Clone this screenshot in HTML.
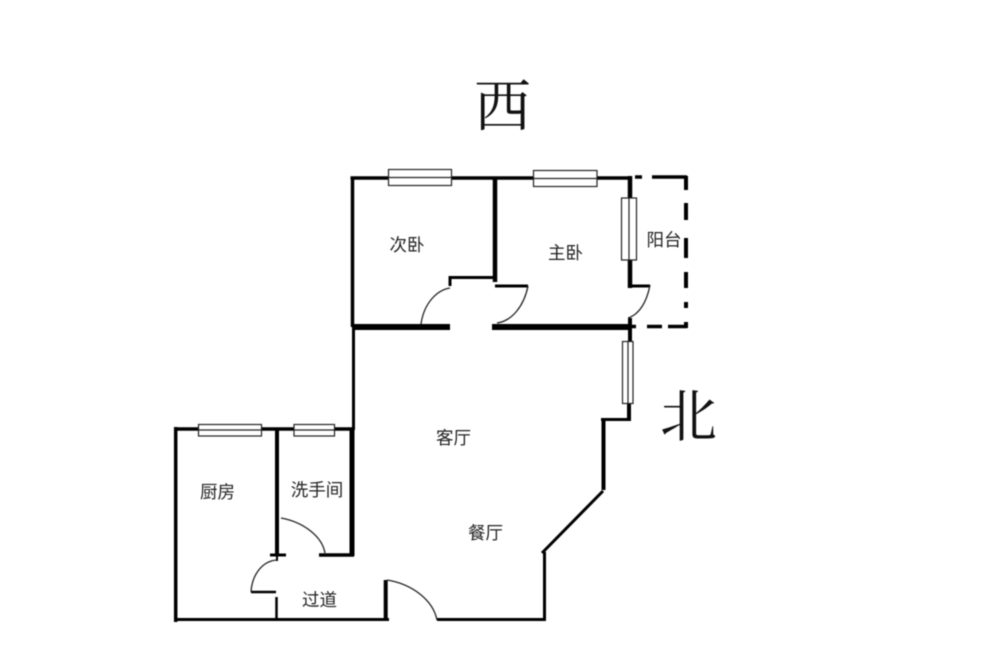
<!DOCTYPE html>
<html><head><meta charset="utf-8">
<style>html,body{margin:0;padding:0;background:#fff}svg{display:block}
text{font-family:"Liberation Sans","Noto Sans CJK SC",sans-serif;font-size:17.500px;fill:#222;text-anchor:middle}
text.big{font-family:"Liberation Serif","Noto Serif CJK SC",serif;font-size:57px;fill:#111}
.soft{filter:blur(0.400px)}
</style></head><body>
<svg width="1000" height="653" viewBox="0 0 1000 653" xmlns="http://www.w3.org/2000/svg">
<rect width="1000" height="653" fill="#fff"/>
<g class="soft">
<g fill="none" stroke="#000" stroke-linecap="butt">
<!-- upper rooms -->
<path d="M350.500 178H631" stroke-width="3.500"/>
<path d="M352.500 176.500V327" stroke-width="3.500"/>
<path d="M495 176.500V282" stroke-width="4.500"/>
<path d="M450 286V277.500H497" stroke-width="3"/>
<path d="M352 327H450" stroke-width="6"/>
<path d="M492 327H632" stroke-width="6"/>
<path d="M495 286H528" stroke-width="3"/>
<path d="M630 176V288" stroke-width="4.500"/>
<path d="M628 286H650" stroke-width="3"/>
<path d="M630 318V341" stroke-width="4"/>
<!-- balcony dashed -->
<path d="M635 177H642M652 177H687" stroke-width="3.500"/>
<path d="M686 176V190M686 203V220M686 238V258M686 272V288M686 302V308M686 322V328" stroke-width="4"/>
<path d="M632 326.500H636M647 326.500H662M668 326.500H687" stroke-width="3.500"/>
<!-- living room outline -->
<path d="M353.500 327V430" stroke-width="3"/>
<path d="M629 403V421" stroke-width="4"/>
<path d="M601 419.500H631" stroke-width="3"/>
<path d="M603.500 419V490" stroke-width="4"/>
<path d="M603 491L542 553" stroke-width="3"/>
<path d="M544.500 552V621" stroke-width="3"/>
<path d="M437 619.500H546" stroke-width="3"/>
<!-- lower rooms -->
<path d="M174 429H353" stroke-width="3.500"/>
<path d="M175.700 427V622" stroke-width="3.500"/>
<path d="M277 429V556" stroke-width="4"/>
<path d="M352 429V556" stroke-width="5"/>
<path d="M319 555H354" stroke-width="3.500"/>
<path d="M270 555H286" stroke-width="3"/>
<path d="M277 556V561" stroke-width="2"/>
<path d="M251 592H276" stroke-width="2.500"/>
<path d="M276.500 597V620" stroke-width="2.500"/>
<path d="M174 619.500H389" stroke-width="3"/>
<path d="M385.700 580V620" stroke-width="4"/>
<!-- door arcs -->
<g stroke-width="1.300" stroke="#222">
<path d="M421 324C424 303 437 290 450 288"/>
<path d="M528 286C524 306 512 321 497 323"/>
<path d="M650 285C647 301 640 314 628 318"/>
<path d="M281 518C303 522 322 536 325 553"/>
<path d="M277 560C262 561 252 575 251 592"/>
<path d="M387 580C412 584 433 600 437 620"/>
</g>
</g>
<!-- windows -->
<g fill="#fff" stroke="#222" stroke-width="1.200">
<rect x="388.500" y="169.500" width="63" height="16"/><path d="M388.500 177.500H451.500"/>
<rect x="533.500" y="170.500" width="63.500" height="16"/><path d="M533.500 178.500H597"/>
<rect x="621.500" y="198" width="15" height="62"/><path d="M629 198V260"/>
<rect x="622.500" y="341.500" width="10.500" height="62"/><path d="M628 341.500V403.500"/>
<rect x="198.500" y="424.500" width="63" height="11.500"/><path d="M198.500 430H261.500"/>
<rect x="294" y="424.500" width="40.500" height="11.500"/><path d="M294 430H334.500"/>
</g>
<!-- labels -->
<text class="big" x="502.500" y="126">西</text>
<text class="big" x="688.500" y="436">北</text>
<text x="407" y="251">次卧</text>
<text x="565.500" y="259">主卧</text>
<text x="664" y="246">阳台</text>
<text x="453.500" y="444">客厅</text>
<text x="485.500" y="539">餐厅</text>
<text x="217.500" y="498">厨房</text>
<text x="317" y="496">洗手间</text>
<text x="319.500" y="606">过道</text>
</g>
</svg>
</body></html>
